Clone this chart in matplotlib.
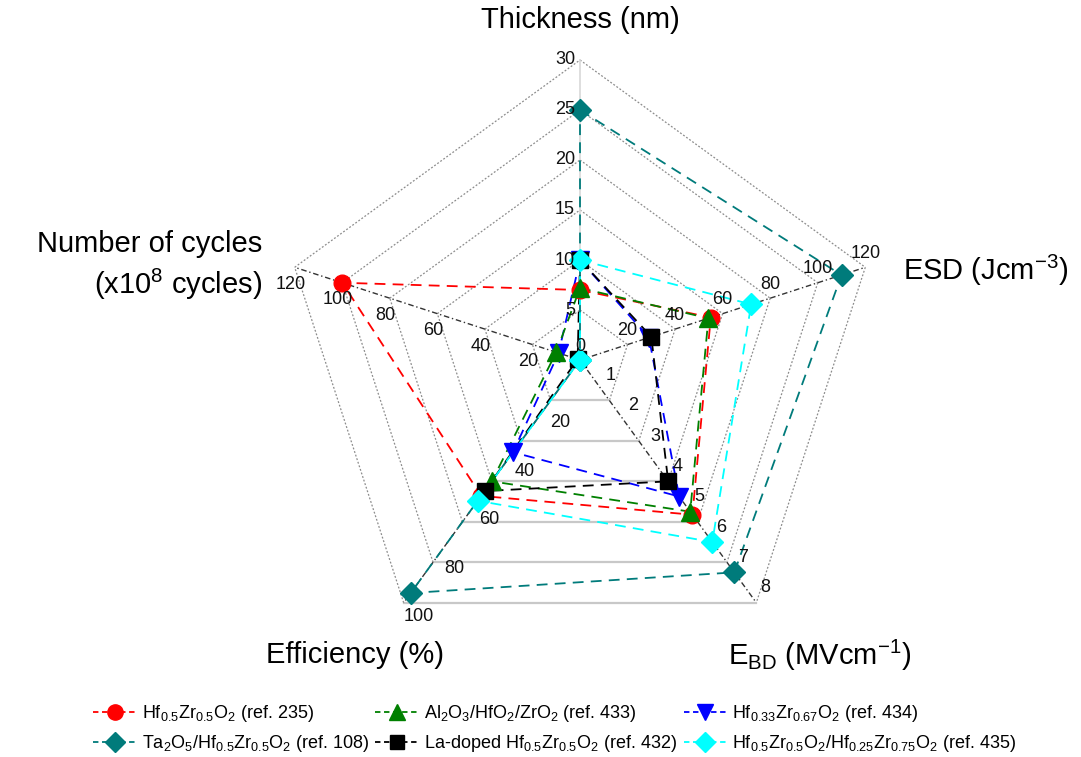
import numpy as np
import matplotlib.pyplot as plt

plt.rcParams['font.family'] = ['Liberation Sans', 'DejaVu Sans']
plt.rcParams['mathtext.fontset'] = 'custom'
plt.rcParams['mathtext.rm'] = 'Liberation Sans'
plt.rcParams['mathtext.it'] = 'Liberation Sans'

# axes of the spider chart (clockwise from top)
axis_names = ['Thickness (nm)', 'ESD (Jcm$^{-3}$)', r'E$_\mathrm{BD}$ (MVcm$^{-1}$)',
              'Efficiency (%)', 'Number of cycles\n(x10$^{8}$ cycles)']
axis_max = [30, 120, 8, 100, 120]
thickness_ticks = [5, 10, 15, 20, 25, 30]
esd_ticks = [0, 20, 40, 60, 80, 100, 120]
ebd_ticks = [1, 2, 3, 4, 5, 6, 7, 8]
eff_ticks = [20, 40, 60, 80, 100]
cycle_ticks = [20, 40, 60, 80, 100, 120]

labels = [r'Hf$_{0.5}$Zr$_{0.5}$O$_2$ (ref. 235)',
          r'Al$_2$O$_3$/HfO$_2$/ZrO$_2$ (ref. 433)',
          r'Hf$_{0.33}$Zr$_{0.67}$O$_2$ (ref. 434)',
          r'Ta$_2$O$_5$/Hf$_{0.5}$Zr$_{0.5}$O$_2$ (ref. 108)',
          r'La-doped Hf$_{0.5}$Zr$_{0.5}$O$_2$ (ref. 432)',
          r'Hf$_{0.5}$Zr$_{0.5}$O$_2$/Hf$_{0.25}$Zr$_{0.75}$O$_2$ (ref. 435)']
thickness = [7, 7.2, 10, 25, 10, 10]
esd = [55, 54, 29, 110, 30, 72]
ebd = [5.1, 5.0, 4.5, 7.0, 4.0, 6.0]
efficiency = [56, 50, 38, 96, 54, 58]
cycles = [100, 10, 9, 0, 1, 0]

colors = ['#ff0000', '#008000', '#0000ff', '#007b7b', '#000000', '#00ffff']
markers = ['o', '^', 'v', 'D', 's', 'D']
msizes = [12, 13, 13, 11, 11, 11]
draw_order = [0, 2, 1, 3, 4, 5]

angles = np.deg2rad([90, 18, -54, -126, 162])
W, H = 1081, 757
cx, cy, R = 580, 360, 300

fig = plt.figure(figsize=(W / 100, H / 100), dpi=100)
ax = fig.add_axes([0, 0, 1, 1])
ax.set_xlim(-cx / R, (W - cx) / R)
ax.set_ylim(-(H - cy) / R, cy / R)
ax.axis('off')


def xy(frac, i):
    return frac * np.cos(angles[i]), frac * np.sin(angles[i])


# pentagon grid, 6 rings
for k in range(1, 7):
    f = k / 6
    for i in range(5):
        j = (i + 1) % 5
        x0, y0 = xy(f, i)
        x1, y1 = xy(f, j)
        if i == 2:
            ax.plot([x0, x1], [y0, y1], color='#c8c8c8', lw=1.6, zorder=1)
        else:
            ax.plot([x0, x1], [y0, y1], color='#8c8c8c', lw=0.9,
                    linestyle=(0, (1.5, 1.5)), zorder=1)

# radial axes
for i in range(5):
    x1, y1 = xy(1, i)
    if i == 0:
        ax.plot([0, x1], [0, y1], color='#d8d8d8', lw=1.2, zorder=1)
    else:
        ax.plot([0, x1], [0, y1], color='#333333', lw=1.0,
                linestyle=(0, (4, 2, 1, 2)), zorder=1)

# tick labels (offsets in pixels)
tick_sets = [thickness_ticks, esd_ticks, ebd_ticks, eff_ticks, cycle_ticks]
offsets = [(-5, 0, 'right', 'center'), (0, 14, 'center', 'center'),
           (9, 15, 'center', 'center'), (15, -14, 'center', 'center'),
           (-4, -17, 'center', 'center')]
for i, ticks in enumerate(tick_sets):
    dx, dy, ha, va = offsets[i]
    for t in ticks:
        x, y = xy(t / axis_max[i], i)
        ax.text(x + dx / R, y + dy / R, str(t), fontsize=13, color='#111111',
                ha=ha, va=va, zorder=6)

# series
for n, s in enumerate(draw_order):
    vals = [thickness[s], esd[s], ebd[s], efficiency[s], cycles[s]]
    fr = [v / m for v, m in zip(vals, axis_max)]
    pts = [xy(f, i) for i, f in enumerate(fr)]
    xs = [p[0] for p in pts] + [pts[0][0]]
    ys = [p[1] for p in pts] + [pts[0][1]]
    ax.plot(xs, ys, color=colors[s], lw=1.3, linestyle=(0, (6, 4)), zorder=3 + n * 0.1)
    ax.plot(xs[:-1], ys[:-1], linestyle='None', color=colors[s],
            marker=markers[s], markersize=msizes[s], markeredgecolor=colors[s],
            zorder=4 + n * 0.1)

# axis titles
tfs = 21
ax.text(0, (cy - 20) / R, axis_names[0], fontsize=tfs, ha='center', va='center')
ax.text((903 - cx) / R, (cy - 270) / R, axis_names[1], fontsize=tfs, ha='left', va='center')
ax.text((820 - cx) / R, (cy - 655) / R, axis_names[2], fontsize=tfs, ha='center', va='center')
ax.text((355 - cx) / R, (cy - 655) / R, axis_names[3], fontsize=tfs, ha='center', va='center')
ax.text((262 - cx) / R, (cy - 266) / R, axis_names[4], fontsize=tfs, ha='right', va='center',
        multialignment='right', linespacing=1.3)

# legend
leg_handles = []
for s in range(6):
    lh, = ax.plot([], [], color=colors[s], lw=1.3, linestyle=(0, (3, 2)),
                  marker=markers[s], markersize=msizes[s] - 1, markeredgecolor=colors[s])
    leg_handles.append(lh)
order = [0, 3, 1, 4, 2, 5]
fig.legend([leg_handles[i] for i in order], [labels[i] for i in order], ncol=3,
           loc='upper left', bbox_to_anchor=(84 / W, 1 - 694 / H), frameon=False,
           fontsize=13, handlelength=2.4, handletextpad=0.3, columnspacing=0.35,
           labelspacing=0.5, borderpad=0)

fig.savefig('out.png', dpi=100)
